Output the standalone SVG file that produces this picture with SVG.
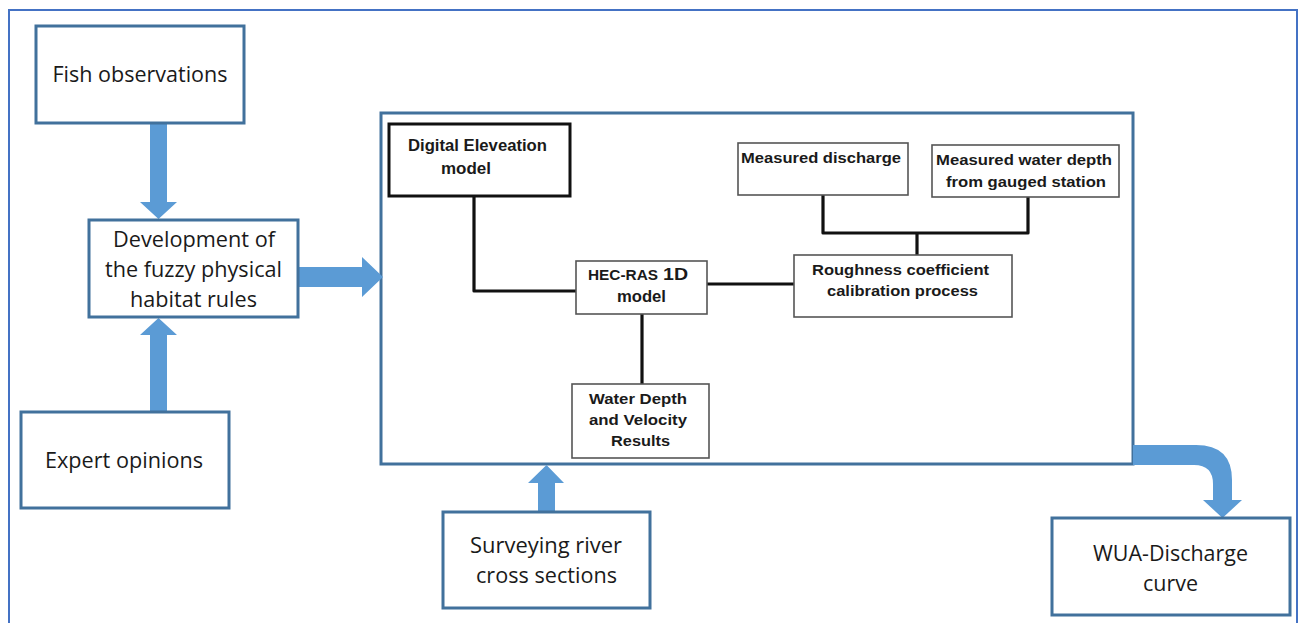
<svg xmlns="http://www.w3.org/2000/svg" width="1299" height="623" viewBox="0 0 1299 623">
  <style>
    .outer { fill: #ffffff; stroke: #41719C; stroke-width: 3; }
    .frame { fill: none; stroke: #4472C4; stroke-width: 2; }
    .inner { fill: #ffffff; stroke: #555555; stroke-width: 1.6; }
    .inner-dark { fill: #ffffff; stroke: #111111; stroke-width: 3; }
    .arrow { fill: #5B9BD5; }
    .link { fill: none; stroke: #111111; stroke-width: 3.2; stroke-linejoin: round; }
    .lbl { font-family: "Open Sans", "Liberation Sans", sans-serif; font-size: 21px; fill: #1a1a1a; text-anchor: middle; }
    .blbl { font-family: "Liberation Sans", Arial, sans-serif; font-weight: bold; font-size: 15px; fill: #1a1a1a; text-anchor: middle; }
    .big { font-size: 16px; }
    .start { text-anchor: start; }
  </style>

  <rect width="1299" height="623" fill="#ffffff"/>
  <rect class="frame" x="9" y="10" width="1288" height="614"/>

  <!-- container for the hydraulic modelling steps -->
  <g id="hydraulic-model">
    <rect class="outer" x="381" y="113" width="752" height="351"/>
  </g>

  <!-- block arrows and links -->
  <g id="connectors">
    <!-- fish -> development -->
    <path class="arrow" d="M150,123 H167 V202 H177 L158.5,219 L140,202 H150 Z"/>
    <!-- expert -> development -->
    <path class="arrow" d="M150,412 H167 V335 H177 L158.5,318 L140,335 H150 Z"/>
    <!-- development -> hydraulic model block -->
    <path class="arrow" d="M298,267 H362 V257 L383,277 L362,297 V287 H298 Z"/>
    <!-- surveying -> hydraulic model block -->
    <path class="arrow" d="M538,512 H555 V483 H564 L546.5,465 L528,483 H538 Z"/>
    <!-- hydraulic model block -> WUA curve -->
    <path class="arrow" d="M1133,445 H1196 Q1232,445 1232,480 V500 H1242 L1222.5,518 L1203,500 H1213 V484 Q1213,465 1194,465 H1133 Z"/>

    <!-- links inside the hydraulic model block -->
    <path class="link" d="M474,196 V291 H576"/>
    <path class="link" d="M707,284 H795"/>
    <path class="link" d="M642,314 V384"/>
    <path class="link" d="M823,195 V233 H1028 V197"/>
    <path class="link" d="M917,233 V255"/>
  </g>

  <g id="fish-observations">
    <rect class="outer" x="36" y="26" width="208" height="97"/>
    <text class="lbl" x="140" y="82" textLength="175" lengthAdjust="spacingAndGlyphs">Fish observations</text>
  </g>

  <g id="fuzzy-rules">
    <rect class="outer" x="89" y="220" width="209" height="97"/>
    <text class="lbl" x="194" y="247" textLength="162" lengthAdjust="spacingAndGlyphs">Development of</text>
    <text class="lbl" x="193.5" y="277" textLength="177" lengthAdjust="spacingAndGlyphs">the fuzzy physical</text>
    <text class="lbl" x="193.5" y="307" textLength="127" lengthAdjust="spacingAndGlyphs">habitat rules</text>
  </g>

  <g id="expert-opinions">
    <rect class="outer" x="21" y="412" width="208" height="96"/>
    <text class="lbl" x="124" y="468" textLength="158" lengthAdjust="spacingAndGlyphs">Expert opinions</text>
  </g>

  <g id="dem">
    <rect class="inner-dark" x="389" y="124" width="181" height="72"/>
    <text class="blbl big" x="477.5" y="151" textLength="139" lengthAdjust="spacingAndGlyphs">Digital Eleveation</text>
    <text class="blbl big" x="466" y="174" textLength="50" lengthAdjust="spacingAndGlyphs">model</text>
  </g>

  <g id="hec-ras">
    <rect class="inner" x="576" y="261" width="131" height="53"/>
    <text class="blbl start" x="588" y="280" textLength="70" lengthAdjust="spacingAndGlyphs">HEC-RAS</text>
    <text class="blbl start big" x="663" y="280" fill="#1f2a44" textLength="25" lengthAdjust="spacingAndGlyphs">1D</text>
    <text class="blbl big" x="641.5" y="302" textLength="49" lengthAdjust="spacingAndGlyphs">model</text>
  </g>

  <g id="results">
    <rect class="inner" x="572" y="384" width="137" height="74"/>
    <text class="blbl" x="638" y="404" textLength="98" lengthAdjust="spacingAndGlyphs">Water Depth</text>
    <text class="blbl" x="638" y="425" textLength="98" lengthAdjust="spacingAndGlyphs">and Velocity</text>
    <text class="blbl" x="640.5" y="446" textLength="59" lengthAdjust="spacingAndGlyphs">Results</text>
  </g>

  <g id="measured-discharge">
    <rect class="inner" x="738" y="143" width="170" height="52"/>
    <text class="blbl" x="821" y="163" textLength="160" lengthAdjust="spacingAndGlyphs">Measured discharge</text>
  </g>

  <g id="measured-depth">
    <rect class="inner" x="932" y="145" width="187" height="52"/>
    <text class="blbl" x="1024" y="165" textLength="176" lengthAdjust="spacingAndGlyphs">Measured water depth</text>
    <text class="blbl" x="1026" y="187" textLength="160" lengthAdjust="spacingAndGlyphs">from gauged station</text>
  </g>

  <g id="roughness-calibration">
    <rect class="inner" x="794" y="255" width="218" height="62"/>
    <text class="blbl" x="900.5" y="275" textLength="177" lengthAdjust="spacingAndGlyphs">Roughness coefficient</text>
    <text class="blbl" x="902.5" y="296" textLength="151" lengthAdjust="spacingAndGlyphs">calibration process</text>
  </g>

  <g id="surveying">
    <rect class="outer" x="443" y="512" width="207" height="96"/>
    <text class="lbl" x="546" y="553" textLength="152" lengthAdjust="spacingAndGlyphs">Surveying river</text>
    <text class="lbl" x="546.5" y="583" textLength="141" lengthAdjust="spacingAndGlyphs">cross sections</text>
  </g>

  <g id="wua-curve">
    <rect class="outer" x="1052" y="518" width="238" height="97"/>
    <text class="lbl" x="1170.5" y="561" textLength="155" lengthAdjust="spacingAndGlyphs">WUA-Discharge</text>
    <text class="lbl" x="1170.5" y="591" textLength="55" lengthAdjust="spacingAndGlyphs">curve</text>
  </g>
</svg>
